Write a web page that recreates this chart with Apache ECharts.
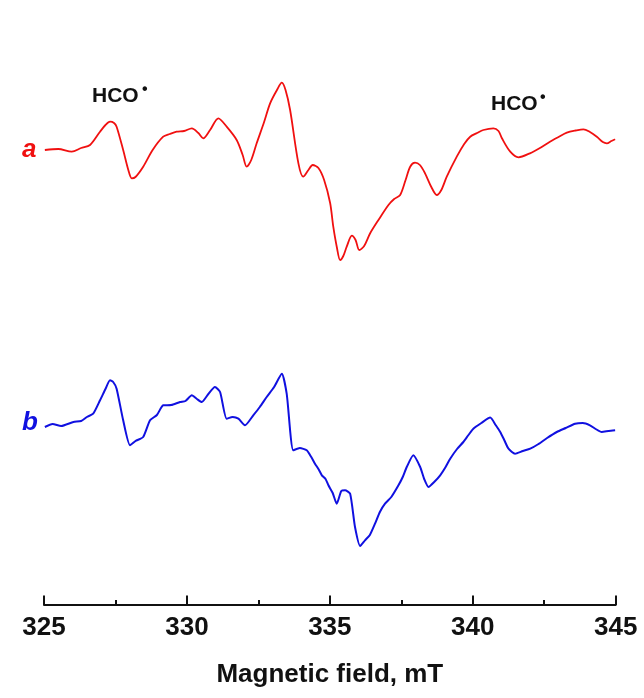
<!DOCTYPE html>
<html>
<head>
<meta charset="utf-8">
<script src="https://cdn.jsdelivr.net/npm/echarts@6/dist/echarts.min.js"></script>
<style>
html,body{margin:0;padding:0;background:#fff;}
#chart{width:644px;height:698px;}
</style>
</head>
<body>
<div id="chart"></div>
<script>
// x-axis ticks (mT)
var tickValues = [325, 330, 335, 340, 345];
var axisTitle = 'Magnetic field, mT';
var traceLabels = ['a', 'b'];
var radicalLabel = 'HCO';

// Trace a (red): magnetic field (mT) and intensity (arb. units, relative to baseline)
var fieldA = [325.03, 325.5, 325.97, 326.3, 326.61, 326.96, 327.15, 327.31, 327.45, 327.54, 327.77, 327.95, 328.07, 328.2, 328.47, 328.8, 329.17, 329.4, 329.64, 329.9, 330.17, 330.4, 330.57, 330.81, 331.1, 331.39, 331.74, 331.95, 332.09, 332.25, 332.44, 332.7, 332.91, 333.15, 333.32, 333.45, 333.61, 333.9, 334.07, 334.25, 334.4, 334.6, 334.8, 335.01, 335.12, 335.25, 335.36, 335.47, 335.59, 335.77, 335.9, 336.03, 336.2, 336.41, 336.7, 337.05, 337.25, 337.46, 337.65, 337.81, 337.98, 338.15, 338.33, 338.55, 338.74, 338.9, 339.09, 339.44, 339.7, 339.91, 340.15, 340.37, 340.72, 340.9, 341.02, 341.31, 341.6, 342.0, 342.35, 342.7, 343.0, 343.29, 343.6, 343.87, 344.1, 344.34, 344.55, 344.69, 344.85, 344.98];
var intensityA = [0, 1, -1.7, 2, 5, 18.3, 25, 28.3, 27, 23.3, 0, -20, -28.3, -27, -16.7, 0, 13.3, 16, 18.3, 19, 21.7, 17, 11.7, 20, 31.7, 23.3, 10, -5, -16.7, -10, 6.7, 28, 46.7, 60, 67.3, 60, 40, -13.3, -26.7, -20, -15, -18, -30, -53, -76.7, -98, -110, -106, -96.7, -85.7, -90, -100, -96, -83.3, -70, -55, -49, -45, -30, -16.7, -12.7, -15, -23.3, -37, -45, -40, -26.7, -6.7, 6, 13.3, 17, 20, 21.7, 19, 11.7, -1.7, -7.3, -3.3, 2, 8.3, 13, 17.3, 19.5, 20.7, 18, 13.3, 8, 6.7, 9, 10.7];

// Trace b (blue)
var fieldB = [325.03, 325.3, 325.6, 326.03, 326.3, 326.5, 326.72, 326.96, 327.15, 327.31, 327.42, 327.54, 327.77, 328.01, 328.2, 328.47, 328.71, 328.95, 329.17, 329.45, 329.76, 329.95, 330.17, 330.35, 330.52, 330.75, 330.98, 331.16, 331.39, 331.6, 331.8, 332.03, 332.32, 332.55, 332.79, 333.05, 333.32, 333.49, 333.72, 333.95, 334.19, 334.35, 334.48, 334.6, 334.72, 334.85, 334.95, 335.1, 335.24, 335.4, 335.53, 335.71, 335.88, 336.06, 336.23, 336.4, 336.58, 336.75, 336.93, 337.15, 337.4, 337.55, 337.69, 337.92, 338.16, 338.3, 338.45, 338.65, 338.86, 339.05, 339.21, 339.45, 339.67, 339.85, 340.02, 340.3, 340.61, 340.8, 340.96, 341.1, 341.25, 341.48, 341.75, 342.01, 342.3, 342.6, 342.94, 343.25, 343.58, 343.85, 344.1, 344.3, 344.51, 344.75, 344.98];
var intensityB = [0, 3, 1, 5, 6, 10, 13.3, 26.7, 38, 46.7, 45, 38.3, 6.7, -18.3, -14, -10, 6.7, 12, 21.7, 22, 25, 26, 31.7, 28, 25, 33, 40, 35, 8.3, 10, 8.3, 1.7, 11.7, 20, 30, 40, 53.3, 33.3, -23.3, -21, -23.3, -30, -36.7, -42, -48.3, -52, -58.3, -66, -76.7, -64, -63.3, -66.7, -100, -119, -113.3, -108, -96.7, -85, -76.7, -70, -58.3, -50, -40, -28.3, -40, -52, -60, -55, -48.3, -40, -31.7, -22, -15, -8, -1.7, 4, 9.4, 2, -5, -13, -21.7, -26.7, -24, -21.7, -17, -11, -5, -1, 3.3, 4, 1.7, -2, -5, -4, -3.3];

var offsetB = -277;

function pairs(xs, ys, off) {
  var out = [];
  for (var i = 0; i < xs.length; i++) out.push([xs[i], ys[i] + off]);
  return out;
}

var chart = echarts.init(document.getElementById('chart'), null, {renderer: 'canvas'});
var fontFam = '"Liberation Sans", Arial, sans-serif';

chart.setOption({
  backgroundColor: '#ffffff',
  animation: false,
  grid: {left: 44, right: 28.3, top: 50, bottom: 93},
  xAxis: {
    type: 'value',
    min: tickValues[0],
    max: tickValues[tickValues.length - 1],
    interval: 5,
    name: axisTitle,
    nameLocation: 'middle',
    nameGap: 57,
    nameTextStyle: {fontFamily: fontFam, fontWeight: 'bold', fontSize: 26, color: '#111'},
    axisLine: {show: true, onZero: false, lineStyle: {color: '#111', width: 2}},
    axisTick: {show: true, inside: true, length: 9.5, lineStyle: {color: '#111', width: 2}},
    minorTick: {show: true, splitNumber: 2, length: 5, lineStyle: {color: '#111', width: 2}},
    axisLabel: {fontFamily: fontFam, fontWeight: 'bold', fontSize: 26, color: '#111', margin: 10},
    splitLine: {show: false}
  },
  yAxis: {
    type: 'value',
    min: -455,
    max: 100,
    show: false
  },
  series: [
    {
      type: 'line', name: 'a', data: pairs(fieldA, intensityA, 0),
      showSymbol: false, smooth: 0.3,
      lineStyle: {color: '#f01010', width: 1.8}
    },
    {
      type: 'line', name: 'b', data: pairs(fieldB, intensityB, offsetB),
      showSymbol: false, smooth: 0.2,
      lineStyle: {color: '#1010e0', width: 2}
    }
  ],
  graphic: [
    {type: 'text', left: 22, top: 137, style: {text: traceLabels[0], font: 'italic bold 26px ' + fontFam, fill: '#f01010'}},
    {type: 'text', left: 22, top: 410, style: {text: traceLabels[1], font: 'italic bold 26px ' + fontFam, fill: '#1010e0'}},
    {type: 'text', left: 92, top: 86, style: {text: radicalLabel, font: 'bold 21px ' + fontFam, fill: '#111'}},
    {type: 'text', left: 142, top: 82, style: {text: '•', font: 'bold 16px ' + fontFam, fill: '#111'}},
    {type: 'text', left: 491, top: 94, style: {text: radicalLabel, font: 'bold 21px ' + fontFam, fill: '#111'}},
    {type: 'text', left: 540, top: 90, style: {text: '•', font: 'bold 16px ' + fontFam, fill: '#111'}}
  ]
});
</script>
</body>
</html>
